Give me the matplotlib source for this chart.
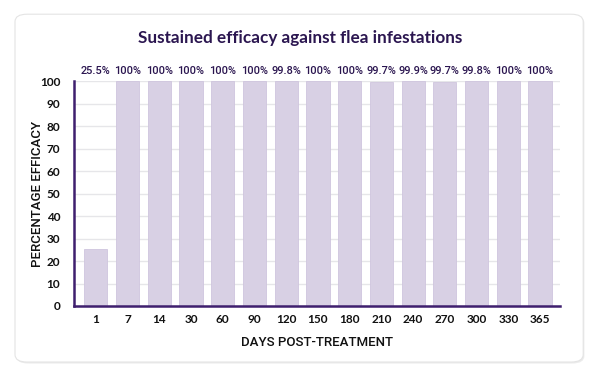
import matplotlib.pyplot as plt
from matplotlib.patches import FancyBboxPatch

days = ["1", "7", "14", "30", "60", "90", "120", "150", "180", "210", "240", "270", "300", "330", "365"]
efficacy = [25.5, 100, 100, 100, 100, 100, 99.8, 100, 100, 99.7, 99.9, 99.7, 99.8, 100, 100]
labels = ["25.5%", "100%", "100%", "100%", "100%", "100%", "99.8%", "100%", "100%",
          "99.7%", "99.9%", "99.7%", "99.8%", "100%", "100%"]

purple = "#2b1650"
bar_color = "#d8d0e4"

fig = plt.figure(figsize=(6, 3.74), dpi=100)

# card background with soft shadow
shadow = FancyBboxPatch((0.027, 0.028), 0.947, 0.93, boxstyle="round,pad=0,rounding_size=0.02",
                        transform=fig.transFigure, facecolor="#ececec", edgecolor="none", zorder=-2)
card = FancyBboxPatch((0.025, 0.032), 0.947, 0.93, boxstyle="round,pad=0,rounding_size=0.02",
                      transform=fig.transFigure, facecolor="white", edgecolor="#e4e4e4",
                      linewidth=0.8, zorder=-1)
fig.patches.extend([shadow, card])

ax = fig.add_axes([74 / 600, 1 - 306 / 374, (560 - 74) / 600, (306 - 81) / 374])
ax.set_zorder(1)
ax.set_facecolor("none")
x = list(range(len(days)))
ax.bar(x, efficacy, width=0.73, color=bar_color, edgecolor="#cfc5de", linewidth=0.6, zorder=2)

for xi, v, lab in zip(x, efficacy, labels):
    ax.text(xi, 102.3, lab, ha="center", va="bottom", fontsize=7.9, color=purple,
            family="Roboto", fontweight="medium", clip_on=False)

ax.set_xlim(-0.69, 14.63)
ax.set_ylim(0, 100)
ax.set_yticks(range(0, 101, 10))
ax.set_xticks(x)
ax.set_xticklabels(days)
ax.grid(axis="y", color="#e6e6e9", linewidth=1, zorder=0)
ax.set_axisbelow(True)
for s in ["top", "right"]:
    ax.spines[s].set_visible(False)
for s in ["left", "bottom"]:
    ax.spines[s].set_color("#3f1f6e")
    ax.spines[s].set_linewidth(1.8)
ax.tick_params(length=0, labelsize=8.5, colors="#111111")
ax.tick_params(axis="y", pad=10)
ax.tick_params(axis="x", pad=6)
for t in ax.get_xticklabels() + ax.get_yticklabels():
    t.set_family("Lato")
    t.set_fontweight("bold")

ax.set_ylabel("PERCENTAGE EFFICACY", family="Roboto", fontsize=9.5, fontweight="medium",
              color="#111111")
ax.set_xlabel("DAYS POST-TREATMENT", family="Roboto", fontsize=9.5, fontweight="medium",
              color="#111111")
ax.yaxis.set_label_coords(-0.076, 0.5)
ax.xaxis.set_label_coords(0.5, -0.16)
ax.xaxis.label.set_va("center")
ax.yaxis.label.set_va("center")

fig.text(0.5, 1 - 38 / 374, "Sustained efficacy against flea infestations", ha="center",
         va="center", fontsize=12.3, fontweight="bold", color=purple, family="Lato")

fig.savefig("out.png", dpi=100, facecolor="white")
